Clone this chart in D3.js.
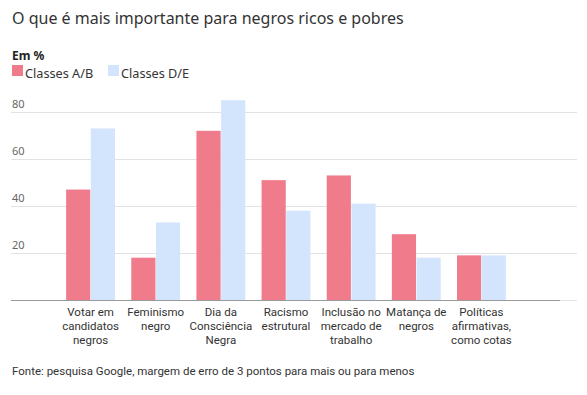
<!DOCTYPE html>
<html>
<head>
<meta charset="utf-8">
<script src="https://cdn.jsdelivr.net/npm/d3@7"></script>
<style>
  body { margin: 0; background: #fff; font-family: "Noto Sans", "Open Sans", sans-serif; }
</style>
</head>
<body>
<div id="chart"></div>
<script>
// Data
const categories = [
    ["Votar em", "candidatos", "negros"],
    ["Feminismo", "negro"],
    ["Dia da", "Consciência", "Negra"],
    ["Racismo", "estrutural"],
    ["Inclusão no", "mercado de", "trabalho"],
    ["Matança de", "negros"],
    ["Políticas", "afirmativas,", "como cotas"]
];
const seriesNames = ["Classes A/B", "Classes D/E"];
const classesAB = [47, 18, 72, 51, 53, 28, 19];
const classesDE = [73, 33, 85, 38, 41, 18, 19];
const yTicks = [20, 40, 60, 80];
const colors = ["#ef7b8b", "#d3e5fc"];

const width = 587, height = 395;

const svg = d3.select("#chart")
    .append("svg")
    .attr("width", width)
    .attr("height", height);

// Title
svg.append("text")
    .attr("x", 12)
    .attr("y", 24)
    .attr("font-size", 16)
    .attr("fill", "#333")
    .text("O que é mais importante para negros ricos e pobres");

svg.append("text")
    .attr("x", 12)
    .attr("y", 60)
    .attr("font-size", 12)
    .attr("font-weight", "bold")
    .attr("fill", "#222")
    .text("Em %");

// Legend
const legendX = [12, 108];
seriesNames.forEach((name, i) => {
    svg.append("rect")
        .attr("x", legendX[i])
        .attr("y", 65)
        .attr("width", 11)
        .attr("height", 11)
        .attr("fill", colors[i]);
    svg.append("text")
        .attr("x", legendX[i] + 13)
        .attr("y", 78)
        .attr("font-size", 12.7)
        .attr("fill", "#333")
        .text(name);
});

// Scales
const y = d3.scaleLinear()
    .domain([0, 80])
    .range([300, 112]);

const x0 = d3.scaleBand()
    .domain(d3.range(categories.length))
    .range([58, 514])
    .paddingInner(0.25)
    .paddingOuter(0.125);

const x1 = d3.scaleBand()
    .domain([0, 1])
    .range([0, x0.bandwidth()])
    .paddingInner(0.02);

// Gridlines
svg.append("g")
    .selectAll("line")
    .data([0].concat(yTicks))
    .enter().append("line")
    .attr("x1", 11)
    .attr("x2", 577)
    .attr("y1", d => Math.round(y(d)) + 0.5)
    .attr("y2", d => Math.round(y(d)) + 0.5)
    .attr("stroke", "#e2e2e2");

svg.append("g")
    .selectAll("text")
    .data(yTicks)
    .enter().append("text")
    .attr("x", 12)
    .attr("y", d => y(d) - 4)
    .attr("font-size", 11)
    .attr("fill", "#666")
    .text(d => d);

// Bars
const groups = svg.append("g")
    .selectAll("g")
    .data(categories.map((c, i) => [classesAB[i], classesDE[i]]))
    .enter().append("g")
    .attr("transform", (d, i) => `translate(${x0(i)},0)`);

groups.selectAll("rect")
    .data(d => d)
    .enter().append("rect")
    .attr("x", (d, j) => x1(j))
    .attr("y", d => y(d))
    .attr("width", x1.bandwidth())
    .attr("height", d => y(0) - y(d))
    .attr("fill", (d, j) => colors[j]);

// Axis line
svg.append("line")
    .attr("x1", 11)
    .attr("x2", 560)
    .attr("y1", 300.5)
    .attr("y2", 300.5)
    .attr("stroke", "#999");

// Category labels
const labels = svg.append("g")
    .selectAll("text")
    .data(categories)
    .enter().append("text")
    .attr("x", (d, i) => x0(i) + x0.bandwidth() / 2)
    .attr("y", 316)
    .attr("text-anchor", "middle")
    .attr("font-family", "Roboto")
    .attr("font-size", 11.5)
    .attr("fill", "#333");

labels.selectAll("tspan")
    .data(d => d)
    .enter().append("tspan")
    .attr("x", function() { return d3.select(this.parentNode).attr("x"); })
    .attr("dy", (d, i) => i === 0 ? 0 : 14)
    .text(d => d);

// Source
svg.append("text")
    .attr("x", 12)
    .attr("y", 375)
    .attr("font-family", "Roboto")
    .attr("font-size", 11.5)
    .attr("fill", "#333")
    .text("Fonte: pesquisa Google, margem de erro de 3 pontos para mais ou para menos");
</script>
</body>
</html>
